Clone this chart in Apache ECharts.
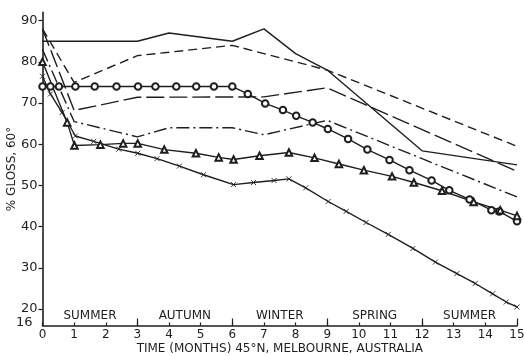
<!DOCTYPE html>
<html><head><meta charset="utf-8">
<script src="https://cdn.jsdelivr.net/npm/echarts@6/dist/echarts.min.js"></script>
<style>html,body{margin:0;padding:0;background:#fff}#c{width:524px;height:356px}</style>
</head><body><div id="c"></div><script>
const monthLabels = [0,1,2,3,4,5,6,7,8,9,10,11,12,13,14,15];
const seasons = ['SUMMER','AUTUMN','WINTER','SPRING','SUMMER'];
const seasonCenters = [1.5,4.5,7.5,10.5,13.5];
const seasonBounds = [3,6,9,12,15];
const yLabels = [16,20,30,40,50,60,70,80,90];
const yTicks = [20,30,40,50,60,70,80,90];

const solidMonths = [0,3,4,6,7,8,9,12,15];
const solidGloss  = [85,85,87,85,88,82,78,58.4,55];

const dashMonths = [0,1,3,6,9,15];
const dashGloss  = [88,75,81.5,84,78,59.5];

const longDashMonths = [0,1,3,7,9,15];
const longDashGloss  = [88,68.2,71.4,71.5,73.7,53.4];

const dashDotMonths = [0,1,3,4,6,7,9,15];
const dashDotGloss  = [83,65.5,61.8,64,64,62.3,65.8,47.2];

const circleMonths = [0,0.25,0.52,1.04,1.65,2.34,3.02,3.57,4.23,4.86,5.42,6.0,6.49,7.04,7.6,8.02,8.54,9.02,9.66,10.27,10.97,11.6,12.3,12.86,13.5,14.19,14.44,15];
const circleGloss  = [74,74,74,74,74,74,74,74,74,74,74,74,72.2,69.9,68.3,66.9,65.3,63.7,61.3,58.7,56.2,53.7,51.2,48.8,46.6,44,43.7,41.3];

const triMonths = [0,0.78,1.01,1.83,2.55,3.01,3.85,4.85,5.57,6.04,6.86,7.79,8.6,9.37,10.16,11.05,11.74,12.63,13.63,14.47,15];
const triGloss  = [80,65.3,59.7,59.9,60.2,60.2,58.7,57.8,56.8,56.3,57.2,58.0,56.7,55.2,53.7,52.2,50.7,48.7,46.0,44.0,42.6];

const crossMonths = [0,0.25,0.62,1.04,1.62,2.41,3.01,3.62,4.33,5.09,6.04,6.67,7.32,7.79,8.32,9.03,9.6,10.23,10.93,11.71,12.42,13.1,13.68,14.23,14.66,15];
const crossGloss  = [76.5,72.2,67.7,62,60.7,58.8,57.8,56.5,54.7,52.6,50.2,50.7,51.2,51.6,49.4,46.1,43.7,41.0,38.1,34.7,31.4,28.6,26.2,23.7,21.7,20.5];

const zip = (xs, ys) => xs.map((x, i) => [x, ys[i]]);
const INK = '#1e1e1e';
const FONT = 'DejaVu Sans';

function lineSeries(data, type, symbol, size) {
  return {
    type: 'line', xAxisIndex: 0, yAxisIndex: 0, data: data,
    symbol: symbol || 'none', symbolSize: size || 6, showAllSymbol: true,
    lineStyle: { color: INK, width: 1.4, type: type || 'solid' },
    itemStyle: { color: INK, borderColor: INK, borderWidth: 0.9 },
    emphasis: { disabled: true }, silent: true, z: 3
  };
}

const chart = echarts.init(document.getElementById('c'), null, { renderer: 'canvas' });
chart.setOption({
  animation: false,
  backgroundColor: '#fff',
  grid: { left: 42.5, right: 7, top: 12.4, bottom: 30.5, containLabel: false, outerBoundsMode: 'none' },
  xAxis: [{
    type: 'value', min: 0, max: 15, interval: 1,
    name: 'TIME (MONTHS) 45°N, MELBOURNE, AUSTRALIA',
    nameLocation: 'middle', nameGap: 17, nameMoveOverlap: false,
    nameTextStyle: { color: INK, fontFamily: FONT, fontSize: 12 },
    axisLine: { show: true, lineStyle: { color: INK, width: 1.6 } },
    axisTick: { show: true, inside: true, length: 3, lineStyle: { color: INK, width: 1.2 } },
    axisLabel: { color: INK, fontFamily: FONT, fontSize: 12, margin: 3,
      formatter: v => monthLabels.includes(v) ? String(v) : '' },
    splitLine: { show: false }
  }, {
    type: 'value', min: 0, max: 15, position: 'bottom', gridIndex: 0,
    axisLine: { show: false },
    axisTick: { show: true, inside: true, length: 7, customValues: seasonBounds,
      lineStyle: { color: INK, width: 1.2 } },
    axisLabel: { show: true, inside: true, margin: 4, customValues: seasonCenters,
      color: INK, fontFamily: FONT, fontSize: 12,
      formatter: v => seasons[seasonCenters.indexOf(v)] || '' },
    splitLine: { show: false }
  }],
  yAxis: {
    type: 'value', min: 16, max: 92,
    name: '% GLOSS, 60°', nameLocation: 'middle', nameGap: 25, nameRotate: 90,
    nameMoveOverlap: false,
    nameTextStyle: { color: INK, fontFamily: FONT, fontSize: 12 },
    axisLine: { show: true, lineStyle: { color: INK, width: 1.6 } },
    axisTick: { show: true, inside: false, length: 4, customValues: yTicks,
      lineStyle: { color: INK, width: 1.2 } },
    axisLabel: { color: INK, fontFamily: FONT, fontSize: 13, margin: 5,
      customValues: yLabels,
      formatter: v => v === 16 ? '{s|16}' : String(v),
      rich: { s: { color: INK, fontFamily: FONT, fontSize: 13, padding: [0, 5, 5, 0] } } },
    splitLine: { show: false }
  },
  series: [
    lineSeries(zip(solidMonths, solidGloss), 'solid'),
    lineSeries(zip(dashMonths, dashGloss), [9, 5]),
    lineSeries(zip(longDashMonths, longDashGloss), [18, 5]),
    lineSeries(zip(dashDotMonths, dashDotGloss), [13, 4, 2, 4]),
    lineSeries(zip(circleMonths, circleGloss), 'solid', 'emptyCircle', 6.5),
    lineSeries(zip(triMonths, triGloss), 'solid', 'emptyTriangle', 6.5),
    lineSeries(zip(crossMonths, crossGloss), 'solid', 'path://M0,0L10,10M10,0L0,10', 5)
  ]
});
</script></body></html>
